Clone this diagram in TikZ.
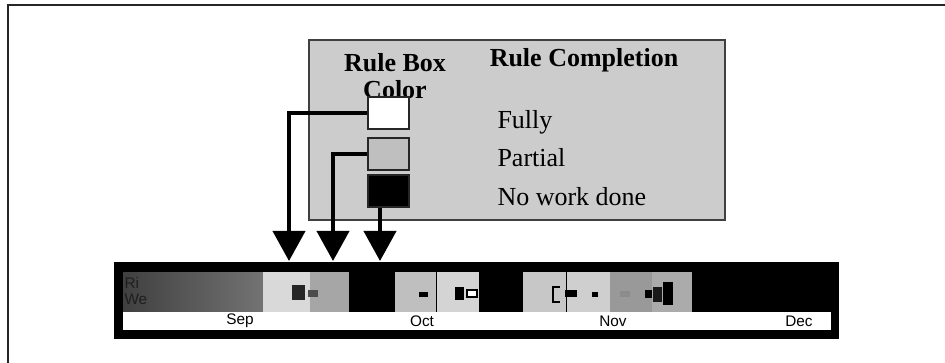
\documentclass[tikz,border=0pt]{standalone}
\usepackage{fontspec}
\setmainfont{Liberation Serif}
\setsansfont{Liberation Sans}
\usetikzlibrary{arrows.meta, positioning}

\begin{document}
\begin{tikzpicture}[x=0.75pt,y=-0.75pt,thick]

	\tikzset{
		swatch/.style={
				rectangle, draw=black!85, line width=1.5pt, inner sep=0pt, minimum width=30.75pt, minimum height=24pt
			},
		caption/.style={
				anchor=west, inner sep=0pt, font=\fontsize{19.5}{22}\selectfont
			},
		heading/.style={
				inner sep=0pt, align=center, font=\fontsize{19.5}{22}\selectfont\bfseries
			},
		month/.style={
				inner sep=0pt, font=\sffamily\fontsize{11.5}{13}\selectfont
			},
		flow/.style={
				line width=3pt, -{Triangle[length=22.5pt, width=24pt]}
			},
	}
	\useasboundingbox (0,0) rectangle (945,363);

	% frame of the page
	\coordinate (f0) at (8,5);
	\draw[line width=1.5pt, black!85] (945,5) -- (f0) -- (8,363);

	% legend
	\node[draw=black!75, fill=black!20, line width=1.5pt, minimum width=312pt, minimum height=135pt, inner sep=0pt](legend) at (517,130){};
	\node[heading](h1) at (395,76){Rule Box\\[-2pt]Color};
	\node[heading](h2) at (584,60){Rule Completion};
	\node[swatch, fill=white](full) at (388.5,113.5){};
	\node[swatch, fill=black!25](part) at (388.5,154){};
	\node[swatch, fill=black](none) at (388.5,191){};
	\node[caption](t1) at (497,122){Fully};
	\node[caption](t2) at (497,158){Partial};
	\node[caption](t3) at (497,197){No work done};

	% timeline
	\node[fill=black, minimum width=543.75pt, minimum height=57.75pt, inner sep=0pt](timeline) at (476.5,300.5){};
	\shade[left color=black!75, right color=black!55] (123,272) rectangle (263,312);
	\foreach \a/\b/\c in {263/310/15, 310/349/35, 395/436/25, 437/479/17, 523/566/22, 567/610/19, 610/652/40, 652/692/33}
		\fill[black!\c] (\a,272) rectangle (\b,312);
	\fill[white] (123,312) rectangle (831,330);
	\node[month, anchor=west, text=black!88](ri) at (124,283){Ri};
	\node[month, anchor=west, text=black!88](we) at (124,299){We};

	% little boxes on the bars
	\fill[black!85] (292,285) rectangle (305,300);
	\fill[black!70] (308,290) rectangle (318,297);
	\fill[black] (419,292) rectangle (428,297);
	\fill[black] (455,287) rectangle (464,300);
	\draw[line width=1pt, fill=white] (467,290) rectangle (477,297);
	\draw[line width=1pt] (560,287) -- (553,287) -- (553,302) -- (560,302);
	\fill[black] (565,290) rectangle (577,297);
	\fill[black] (592,292) rectangle (598,297);
	\fill[black!45] (620,291) rectangle (630,297);
	\fill[black] (645,290) rectangle (652,298);
	\fill[black!90] (653,287) rectangle (662,302);
	\fill[black] (663,282) rectangle (673,305);

	\node[month](m1) at (240,321){Sep};
	\node[month](m2) at (422,321){Oct};
	\node[month](m3) at (613,321){Nov};
	\node[month](m4) at (799,321){Dec};

	% arrows to the timeline
	\coordinate (a1) at (289,261);
	\coordinate (a2) at (333,261);
	\coordinate (a3) at (380,261);
	\draw[flow] (full.west) -| (a1);
	\draw[flow] (part.west) -| (a2);
	\draw[flow] (none.south -| a3) -- (a3);

\end{tikzpicture}
\end{document}
